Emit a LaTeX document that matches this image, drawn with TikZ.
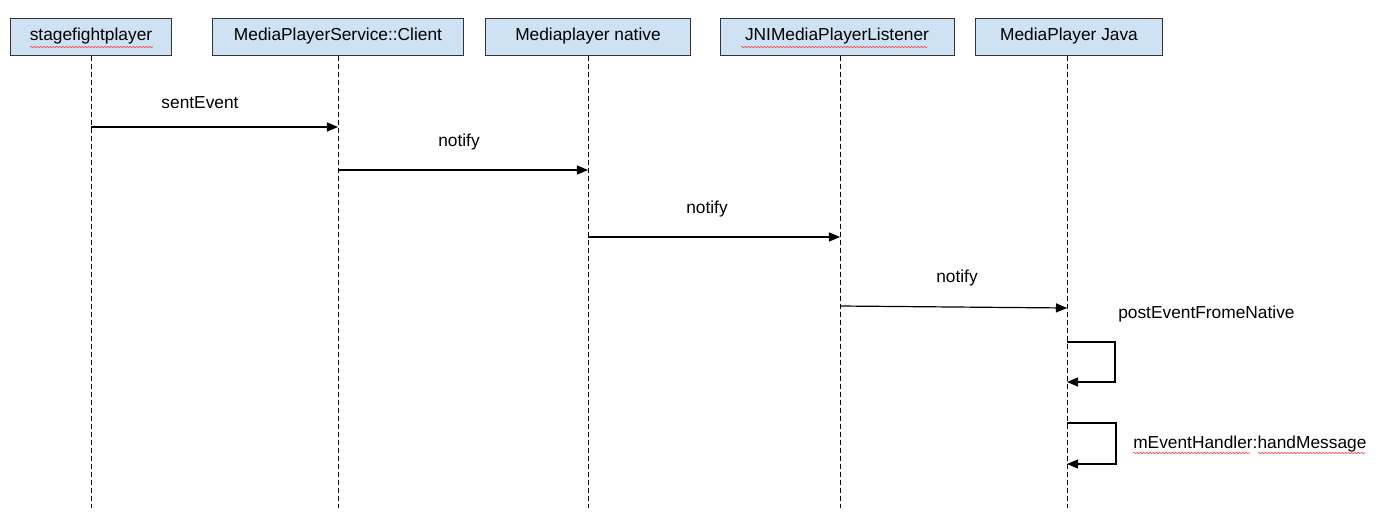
\documentclass[tikz,border=0pt]{standalone}
\usepackage{fontspec}
\setmainfont{Liberation Sans}
\usetikzlibrary{arrows, decorations.pathmorphing}

\definecolor{boxblue}{HTML}{CFE2F3}
\definecolor{boxline}{HTML}{333333}

\begin{document}
\begin{tikzpicture}[x=0.75pt,y=-0.75pt,>=triangle 45,
  actor/.style={draw=boxline,fill=boxblue,line width=0.75pt,inner sep=0pt,
    minimum height=37*0.75pt,font=\fontsize{13}{15}\selectfont},
  life/.style={dash pattern=on 3.75pt off 2.25pt,line width=0.75pt},
  msg/.style={->,line width=0.9pt},
  msglabel/.style={inner sep=0pt,font=\fontsize{13}{15}\selectfont},
  squiggle/.style={red!80,line width=0.4pt,decorate,
    decoration={snake,segment length=2.4pt,amplitude=0.5pt}}]

    \useasboundingbox (0,0) rectangle (1394,525);

    % participants
    \node[actor,minimum width=161*0.75pt] (stage) at (91,36.5) {stagefightplayer};
    \node[actor,minimum width=251*0.75pt] (client) at (338,36.5) {MediaPlayerService::Client};
    \node[actor,minimum width=205*0.75pt] (native) at (588,36.5) {Mediaplayer native};
    \node[actor,minimum width=234*0.75pt] (jni) at (837,36.5) {JNIMediaPlayerListener};
    \node[actor,minimum width=187*0.75pt] (java) at (1069,36.5) {MediaPlayer Java};

    % spell-check marks
    \draw[squiggle] (30,47) -- (153,47);
    \draw[squiggle] (741,47) -- (927,47);
    \draw[squiggle] (1133,453) -- (1250,453);
    \draw[squiggle] (1258,453) -- (1365,453);

    % lifelines
    \coordinate (stagex) at (91,0);
    \coordinate (clientx) at (338,0);
    \coordinate (nativex) at (588,0);
    \coordinate (jnix) at (840,0);
    \coordinate (javax) at (1067,0);
    \foreach \n in {stage,client,native,jni,java}
        \draw[life] (\n x |- \n.south) -- (\n x |- 0,508);

    % messages
    \draw[msg] (stagex |- 0,127) -- (clientx |- 0,127);
    \node[msglabel] (sent) at (200,103) {sentEvent};

    \draw[msg] (clientx |- 0,170) -- (nativex |- 0,170);
    \node[msglabel] (notifya) at (459,142) {notify};

    \draw[msg] (nativex |- 0,237) -- (jnix |- 0,237);
    \node[msglabel] (notifyb) at (707,209) {notify};

    \draw[msg] (jnix |- 0,306) -- (javax |- 0,308);
    \node[msglabel] (notifyc) at (957,278) {notify};

    % self calls
    \coordinate (posta) at (1115,342);
    \coordinate (postb) at (1115,382);
    \draw[msg] (javax |- posta) -- (posta) -- (postb) -- (javax |- postb);
    \node[msglabel,anchor=west] (post) at (1118,314) {postEventFromeNative};

    \coordinate (handa) at (1116,423);
    \coordinate (handb) at (1116,464);
    \draw[msg] (javax |- handa) -- (handa) -- (handb) -- (javax |- handb);
    \node[msglabel,anchor=west] (hand) at (1133,444) {mEventHandler:handMessage};
\end{tikzpicture}
\end{document}
